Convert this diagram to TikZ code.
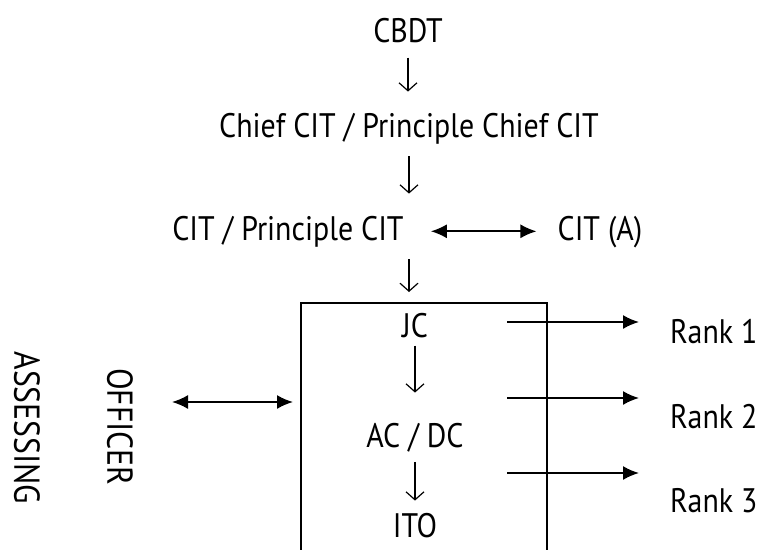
\documentclass[tikz,border=0pt]{standalone}
\usepackage{fontspec}
\setmainfont{PT Sans}[FakeStretch=0.88]
\usetikzlibrary{arrows.meta}
\begin{document}
\begin{tikzpicture}[x=1pt,y=-1pt,
  lbl/.style={font=\fontsize{34}{40}\selectfont,inner sep=0pt,anchor=base},
  vlbl/.style={font=\fontsize{36}{44}\selectfont,inner sep=0pt,rotate=-90},
  dn/.style={line width=1.2pt,-{Straight Barb[length=8pt,width=18pt]}},
  harrow/.style={line width=1.8pt,-{Latex[length=16pt,width=14pt]}},
  dblarrow/.style={line width=1.8pt,{Latex[length=16pt,width=14pt]}-{Latex[length=16pt,width=14pt]}}]
\useasboundingbox (0,0) rectangle (763,549);
% chain on top
\node[lbl] (cbdt) at (408,42) {CBDT};
\node[lbl] (chief) at (409,137) {Chief CIT / Principle Chief CIT};
\node[lbl] (cit) at (288,240) {CIT / Principle CIT};
\node[lbl] (cita) at (600,240) {CIT (A)};
\draw[dn,shorten <=15pt,shorten >=21pt](cbdt.south)--(cbdt.south|-chief.north);
\draw[dn,shorten <=12pt,shorten >=22pt](chief.south)--(chief.south|-cit.north);
\draw[dblarrow,shorten <=27pt,shorten >=21pt](cit.east)--(cit.east-|cita.west);
% box
\coordinate (boxtl) at (301,303);
\coordinate (boxtr) at (547,303);
\draw[line width=1.6pt](boxtl|-0,551)--(boxtl)--(boxtr)--(boxtr|-0,551);
\draw[dn,shorten <=12pt,shorten >=11pt](chief.south|-cit.south)--(chief.south|-boxtl);
\node[lbl] (jc) at (415,337) {JC};
\node[lbl] (acdc) at (415,447) {AC / DC};
\node[lbl] (ito) at (415,537) {ITO};
\draw[dn,shorten <=8pt,shorten >=30pt](jc.south)--(jc.south|-acdc.north);
\draw[dn,shorten <=10pt,shorten >=12pt](acdc.south)--(acdc.south|-ito.north);
% ranks
\foreach \kn/\ky/\kb in {1/322/343,2/398/428,3/473/512}{
  \node[lbl,anchor=base west] (rank\kn) at (670,\kb) {Rank \kn};
  \coordinate (r\kn) at (507,\ky);
  \draw[harrow,shorten >=31pt](r\kn)--(r\kn-|rank\kn.west);
}
% assessing officer
\node[vlbl] (assess) at (27,428) {ASSESSING};
\node[vlbl] (officer) at (120,427) {OFFICER};
\coordinate (lft) at (172,402);
\draw[dblarrow,shorten >=8pt](lft)--(lft-|boxtl);
\end{tikzpicture}
\end{document}
